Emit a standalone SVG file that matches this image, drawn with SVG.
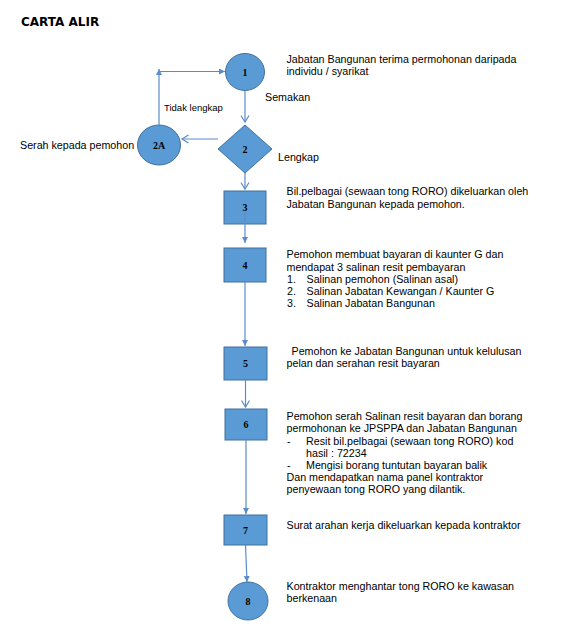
<svg xmlns="http://www.w3.org/2000/svg" width="563" height="632" viewBox="0 0 563 632">
<style>
.bg{fill:#ffffff}
.node{fill:#5B9BD5;stroke:#41719C;stroke-width:1}
.num{font-family:"Liberation Serif","Times New Roman",serif;font-weight:bold;font-size:10px;fill:#000;text-anchor:middle}
.txt{font-family:"Liberation Sans",Arial,sans-serif;font-size:10.7px;fill:#000}
.small{font-family:"Liberation Sans",Arial,sans-serif;font-size:9.5px;fill:#000}
.title{font-family:"DejaVu Sans",Verdana,sans-serif;font-weight:bold;font-size:12px;fill:#000}
.conn{fill:none;stroke:#5B8CC9;stroke-width:1.2}
</style>
<defs>
<marker id="fill" markerUnits="userSpaceOnUse" markerWidth="7" markerHeight="7" refX="6" refY="3" orient="auto">
<path d="M0,0 L6,3 L0,6 z" fill="#5B8CC9"/>
</marker>
<marker id="open" markerUnits="userSpaceOnUse" markerWidth="9" markerHeight="10" refX="7" refY="4.5" orient="auto">
<path d="M0.5,0.5 L7,4.5 L0.5,8.5" fill="none" stroke="#5B8CC9" stroke-width="1.2"/>
</marker>
</defs>
<rect class="bg" x="0" y="0" width="563" height="632"/>
<text class="title" x="21" y="25.5">CARTA ALIR</text>

<g id="node1">
<ellipse class="node" cx="245" cy="72" rx="19.5" ry="18.5"/>
<text class="num" x="245" y="76">1</text>
<text class="txt" x="286.5" y="63">Jabatan Bangunan terima permohonan daripada</text>
<text class="txt" x="286.5" y="75">individu / syarikat</text>
</g>
<g id="node2">
<polygon class="node" points="245,125 272,149 245,173 218,149"/>
<text class="num" x="245" y="153">2</text>
</g>
<g id="node2A">
<ellipse class="node" cx="159" cy="145" rx="21.5" ry="20"/>
<text class="num" x="159" y="149">2A</text>
<text class="txt" x="20" y="149">Serah kepada pemohon</text>
</g>
<g id="node3">
<rect class="node" x="224" y="191" width="42" height="33"/>
<text class="num" x="245" y="211">3</text>
<text class="txt" x="286.5" y="195">Bil.pelbagai (sewaan tong RORO) dikeluarkan oleh</text>
<text class="txt" x="286.5" y="207.5">Jabatan Bangunan kepada pemohon.</text>
</g>
<g id="node4">
<rect class="node" x="224" y="248" width="42" height="34"/>
<text class="num" x="245" y="269">4</text>
<text class="txt" x="286.5" y="258">Pemohon membuat bayaran di kaunter G dan</text>
<text class="txt" x="286.5" y="270.5">mendapat 3 salinan resit pembayaran</text>
<text class="txt" x="287" y="282.7">1.</text><text class="txt" x="306.5" y="282.7">Salinan pemohon (Salinan asal)</text>
<text class="txt" x="287" y="294.8">2.</text><text class="txt" x="306.5" y="294.8">Salinan Jabatan Kewangan / Kaunter G</text>
<text class="txt" x="287" y="307">3.</text><text class="txt" x="306.5" y="307">Salinan Jabatan Bangunan</text>
</g>
<g id="node5">
<rect class="node" x="224" y="347" width="43" height="33"/>
<text class="num" x="245.5" y="367">5</text>
<text class="txt" x="291.5" y="355">Pemohon ke Jabatan Bangunan untuk kelulusan</text>
<text class="txt" x="286.5" y="367">pelan dan serahan resit bayaran</text>
</g>
<g id="node6">
<rect class="node" x="225" y="409" width="42" height="31"/>
<text class="num" x="246" y="428">6</text>
<text class="txt" x="286.5" y="420">Pemohon serah Salinan resit bayaran dan borang</text>
<text class="txt" x="286.5" y="432">permohonan ke JPSPPA dan Jabatan Bangunan</text>
<text class="txt" x="287" y="444.5">-</text><text class="txt" x="306" y="444.5">Resit bil.pelbagai (sewaan tong RORO) kod</text>
<text class="txt" x="306" y="456.5">hasil : 72234</text>
<text class="txt" x="287" y="468.5">-</text><text class="txt" x="306" y="468.5">Mengisi borang tuntutan bayaran balik</text>
<text class="txt" x="286.5" y="480.5">Dan mendapatkan nama panel kontraktor</text>
<text class="txt" x="286.5" y="492.5">penyewaan tong RORO yang dilantik.</text>
</g>
<g id="node7">
<rect class="node" x="224" y="515" width="43" height="30"/>
<text class="num" x="245.5" y="534">7</text>
<text class="txt" x="286.5" y="528.5">Surat arahan kerja dikeluarkan kepada kontraktor</text>
</g>
<g id="node8">
<ellipse class="node" cx="248" cy="601" rx="20" ry="19"/>
<text class="num" x="248" y="605">8</text>
<text class="txt" x="286.5" y="590">Kontraktor menghantar tong RORO ke kawasan</text>
<text class="txt" x="286.5" y="602">berkenaan</text>
</g>

<g id="connectors">
<line class="conn" x1="245" y1="90.5" x2="245" y2="122" marker-end="url(#open)"/>
<line class="conn" x1="218" y1="139" x2="182" y2="139" marker-end="url(#open)"/>
<line class="conn" x1="159" y1="125" x2="159" y2="69" marker-end="url(#fill)"/>
<line class="conn" x1="159" y1="71.5" x2="225" y2="71.5" marker-end="url(#fill)"/>
<text class="small" x="164" y="111">Tidak lengkap</text>
<text class="txt" x="265" y="101">Semakan</text>
<text class="txt" x="278" y="161">Lengkap</text>
<line class="conn" x1="245" y1="173" x2="245" y2="189" marker-end="url(#open)"/>
<line class="conn" x1="245" y1="212" x2="245" y2="243" marker-end="url(#fill)"/>
<line class="conn" x1="245" y1="282" x2="245" y2="346" marker-end="url(#fill)"/>
<line class="conn" x1="245.5" y1="380" x2="245.5" y2="407" marker-end="url(#open)"/>
<line class="conn" x1="246" y1="440" x2="246" y2="514" marker-end="url(#fill)"/>
<line class="conn" x1="245.5" y1="545" x2="247" y2="582" marker-end="url(#fill)"/>
</g>
</svg>
